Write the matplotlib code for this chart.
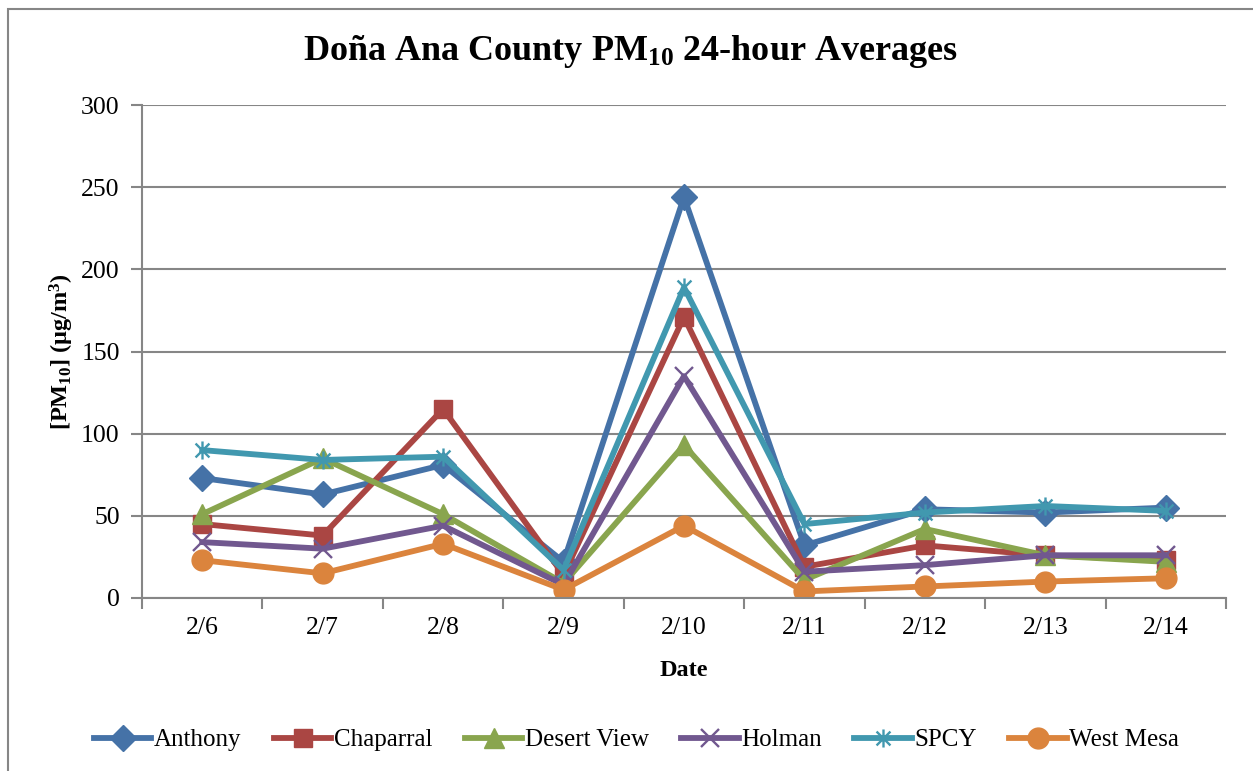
import numpy as np
import matplotlib.pyplot as plt
from matplotlib.path import Path
from matplotlib.patches import Rectangle

# DATA

dates = ['2/6', '2/7', '2/8', '2/9', '2/10', '2/11', '2/12', '2/13', '2/14']

anthony = [73, 63, 81, 22, 244, 32, 54, 52, 55]
chaparral = [45, 38, 115, 14, 171, 19, 32, 26, 23]
desert_view = [51, 85, 51, 9, 93, 11, 42, 26, 22]
holman = [34, 30, 44, 8, 135, 16, 20, 26, 26]
spcy = [90, 84, 86, 17, 189, 45, 52, 56, 53]
west_mesa = [23, 15, 33, 5, 44, 4, 7, 10, 12]

names = ['Anthony', 'Chaparral', 'Desert View', 'Holman', 'SPCY', 'West Mesa']

# STYLE

plt.rcParams['font.family'] = ['Liberation Serif', 'DejaVu Serif']
plt.rcParams['mathtext.fontset'] = 'custom'
plt.rcParams['mathtext.rm'] = 'Liberation Serif'
plt.rcParams['mathtext.bf'] = 'Liberation Serif:bold'
plt.rcParams['mathtext.it'] = 'Liberation Serif:italic'

# excel style asterisk: x plus a vertical bar
star_path = Path(
    [(-1, -1), (1, 1), (-1, 1), (1, -1), (0, -1.3), (0, 1.3)],
    [Path.MOVETO, Path.LINETO, Path.MOVETO, Path.LINETO, Path.MOVETO, Path.LINETO]
)

styles = [
    ('#4572A7', 'D', 13),
    ('#AA4643', 's', 13),
    ('#89A54E', '^', 14),
    ('#71588F', 'x', 13),
    ('#4198AF', star_path, 13),
    ('#DB843D', 'o', 15),
]

series = [anthony, chaparral, desert_view, holman, spcy, west_mesa]

# FIGURE

fig = plt.figure(figsize=(12.53, 7.71), dpi=100)

# chart border
fig.patches.append(Rectangle((8 / 1253, -0.05), 1.1, 1 - 9 / 771 + 0.05,
                             transform=fig.transFigure, fill=False,
                             edgecolor='#868686', linewidth=1.5))

ax = fig.add_axes([142 / 1253, 1 - 598 / 771, (1226 - 142) / 1253, (598 - 105) / 771])

x = np.arange(len(dates))

for vals, name, (color, marker, ms) in zip(series, names, styles):
    filled = marker in ('D', 's', '^', 'o')
    ax.plot(
        x, vals,
        color=color,
        linewidth=4.2,
        marker=marker,
        markersize=ms,
        markerfacecolor=color,
        markeredgecolor=color,
        markeredgewidth=1.0 if filled else 1.7,
        label=name,
        solid_joinstyle='round'
    )

ax.set_xlim(-0.5, len(dates) - 0.5)
ax.set_ylim(0, 300)
ax.set_yticks(np.arange(0, 301, 50))
ax.set_xticks(x)
ax.set_xticklabels(dates)
ax.set_xticks(np.arange(-0.5, len(dates), 1), minor=True)

ax.grid(axis='y', color='#868686', linewidth=1.5)
ax.set_axisbelow(True)

for side in ['top', 'right']:
    ax.spines[side].set_visible(False)
for side in ['left', 'bottom']:
    ax.spines[side].set_color('#868686')
    ax.spines[side].set_linewidth(1.5)

ax.tick_params(axis='x', which='major', length=0, labelsize=18.5, pad=14)
ax.tick_params(axis='x', which='minor', length=8, width=1.5, color='#868686', direction='out')
ax.tick_params(axis='y', length=8, width=1.5, color='#868686', labelsize=18.5, pad=8)

ax.set_xlabel('Date', fontsize=17.5, fontweight='bold', labelpad=15)
ax.set_ylabel(r'[PM$_{\mathbf{10}}$] (µg/m$^{\mathbf{3}}$)', fontsize=17.5, fontweight='bold', labelpad=4)

fig.text(0.503, 1 - 52 / 771, r'Doña Ana County PM$_{\mathbf{10}}$ 24-hour Averages',
         ha='center', va='center', fontsize=26, fontweight='bold')

fig.legend(
    loc='center',
    bbox_to_anchor=(0.508, 1 - 740 / 771),
    ncol=6,
    frameon=False,
    fontsize=18,
    handlelength=2.3,
    handletextpad=0.1,
    columnspacing=1.3
)

plt.savefig('out.png', dpi=100)
